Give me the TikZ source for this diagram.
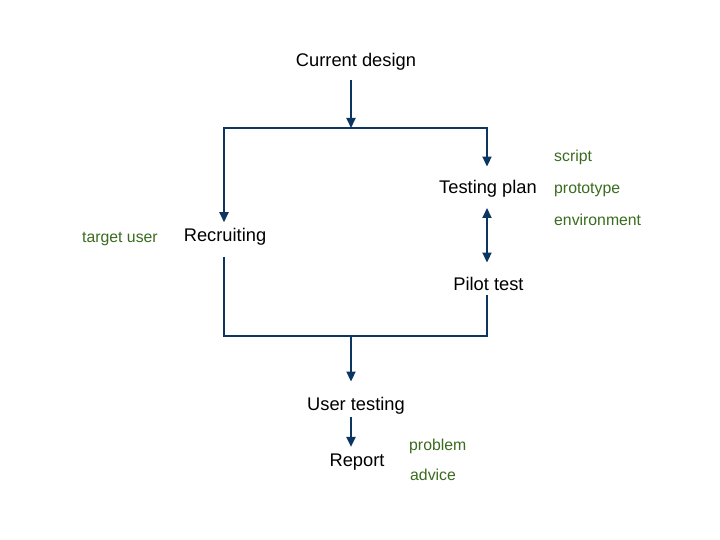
\documentclass[tikz,border=0pt]{standalone}
\usepackage{fontspec}
\setmainfont{Liberation Sans}
\usetikzlibrary{arrows.meta}
\definecolor{linec}{HTML}{0D3562}
\definecolor{notec}{HTML}{3A6B1E}
\tikzset{
  main/.style={inner sep=0pt, anchor=base, font=\fontsize{18.3}{22}\selectfont, text=black},
  note/.style={inner sep=0pt, anchor=base west, font=\fontsize{15.8}{19}\selectfont, text=notec},
  line/.style={draw=linec, line width=2pt},
  conn/.style={line, -{Triangle[length=10pt,width=9pt]}},
  dconn/.style={line, {Triangle[length=10pt,width=9pt]}-{Triangle[length=10pt,width=9pt]}}
}
\begin{document}
\begin{tikzpicture}[x=1pt,y=-1pt]
\useasboundingbox (0,0) rectangle (720,540);
% text nodes
\node[main] (cd) at (356,66.7) {Current design};
\node[main] (tp) at (488,194) {Testing plan};
\node[main] (rec) at (225,241.7) {Recruiting};
\node[main] (pt) at (488.5,290) {Pilot test};
\node[main] (ut) at (356,410) {User testing};
\node[main] (rp) at (357,466.7) {Report};
\node[note] (n1) at (82,242) {target user};
\node[note] (n2) at (554,161.7) {script};
\node[note] (n3) at (554,194) {prototype};
\node[note] (n4) at (554,225.5) {environment};
\node[note] (n5) at (409,450) {problem};
\node[note] (n6) at (410,480.7) {advice};
% junction coordinates
\coordinate (j1) at (351,128);
\coordinate (tl) at (224,128);
\coordinate (tr) at (487,128);
\coordinate (j2) at (351,336);
\coordinate (bl) at (224,336);
\coordinate (br) at (487,336);
% connectors
\draw[conn, shorten <=9.5pt] (cd.south -| j1) -- (j1);
\draw[line, line cap=rect] (tl) -- (tr);
\draw[conn, shorten >=6pt] (tl) -- (tl |- rec.north);
\draw[conn, shorten >=14pt] (tr) -- (tr |- tp.north);
\draw[dconn, shorten <=10pt, shorten >=14pt] (tp.south -| tr) -- (pt.north -| tr);
\draw[line, line join=miter, shorten <=11pt, shorten >=5pt] (rec.south -| bl) -- (bl) -- (br) -- (pt.south -| br);
\draw[conn, shorten >=15pt] (j2) -- (j2 |- ut.north);
\draw[conn, shorten <=3pt, shorten >=7pt] (ut.south -| j2) -- (rp.north -| j2);
\end{tikzpicture}
\end{document}
